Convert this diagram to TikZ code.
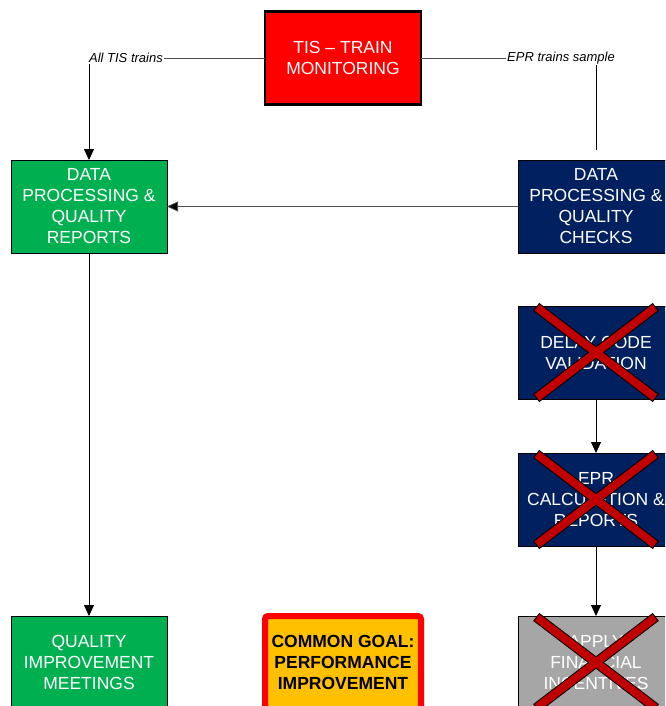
\documentclass[tikz,border=0pt]{standalone}
\usepackage{fontspec}
\setmainfont{Liberation Sans}
\usetikzlibrary{arrows.meta}
\definecolor{tisred}{HTML}{FF0000}
\definecolor{okgreen}{HTML}{00B050}
\definecolor{navyblue}{HTML}{002060}
\definecolor{boxgray}{HTML}{A6A6A6}
\definecolor{goalorange}{HTML}{FFC000}
\definecolor{crossred}{HTML}{C00000}
\definecolor{linegray}{HTML}{505050}
\tikzset{
  box/.style={draw=black, line width=0.6pt, minimum width=156pt, minimum height=93pt,
    inner sep=0pt, outer sep=0pt, align=center, text=white,
    font=\fontsize{17.5}{21}\selectfont},
  tisbox/.style={box, fill=tisred, line width=2.5pt},
  greenbox/.style={box, fill=okgreen},
  navybox/.style={box, fill=navyblue},
  graybox/.style={box, fill=boxgray},
  goalbox/.style={box, fill=goalorange, draw=tisred, line width=6pt, rounded corners=3pt,
    text=black, font=\bfseries\fontsize{17.5}{21}\selectfont},
  lbl/.style={inner sep=1pt, font=\itshape\fontsize{13}{15}\selectfont},
  conn/.style={draw=black, line width=0.8pt},
  hconn/.style={draw=linegray, line width=0.8pt},
  arr/.style={conn, -{Triangle[width=10pt,length=11pt]}},
  harr/.style={hconn, -{Triangle[width=10pt,length=11pt,fill=black]}},
  crossedge/.style={draw=black, line width=10pt, shorten <=-1pt, shorten >=-1pt},
  crossfill/.style={draw=crossred, line width=8pt},
}
\newcommand\redcross[1]{%
  \draw[crossedge] ([shift={(-59,-45)}]#1.center) -- ([shift={(59,45)}]#1.center);
  \draw[crossedge] ([shift={(59,-45)}]#1.center) -- ([shift={(-59,45)}]#1.center);
  \draw[crossfill] ([shift={(-59,-45)}]#1.center) -- ([shift={(59,45)}]#1.center);
  \draw[crossfill] ([shift={(59,-45)}]#1.center) -- ([shift={(-59,45)}]#1.center);
}
\begin{document}
\begin{tikzpicture}[x=1pt, y=-1pt]
\useasboundingbox (0,0) rectangle (665,706);
\clip (0,0) rectangle (665,706);
\fill[white] (0,0) rectangle (665,706);

\node[tisbox] (tis) at (343,58) {TIS -- TRAIN\\MONITORING};
\node[greenbox] (dpL) at (89,206.5) {DATA\\PROCESSING \&\\QUALITY\\REPORTS};
\node[navybox] (dpR) at (596,206.5) {DATA\\PROCESSING \&\\QUALITY\\CHECKS};
\node[navybox] (delay) at (596,352.5) {DELAY CODE\\VALIDATION};
\node[navybox] (epr) at (596,499.5) {EPR\\CALCULATION \&\\REPORTS};
\node[graybox] (apply) at (596,662.5) {APPLY\\FINANCIAL\\INCENTIVES};
\node[greenbox] (qim) at (89,662.5) {QUALITY\\IMPROVEMENT\\MEETINGS};
\node[goalbox] (goal) at (343,662.5) {COMMON GOAL:\\PERFORMANCE\\IMPROVEMENT};

\node[lbl, anchor=east] (lblL) at (164,58) {All TIS trains};
\node[lbl, anchor=west] (lblR) at (506,58) {EPR trains sample};
\coordinate (rEnd) at (596,150);

\draw[hconn] (tis.west) -- (lblL.east);
\draw[hconn] (tis.east) -- (lblR.west);
\draw[arr] (dpL.north |- lblL.south) -- (dpL.north);
\draw[conn] (dpR.north |- lblR.south) -- (rEnd);
\draw[harr] (dpR.west) -- (dpL.east);
\draw[arr] (dpL.south) -- (qim.north);
\draw[arr] (delay.south) -- (epr.north);
\draw[arr] (epr.south) -- (apply.north);

\redcross{delay}
\redcross{epr}
\redcross{apply}
\end{tikzpicture}
\end{document}
